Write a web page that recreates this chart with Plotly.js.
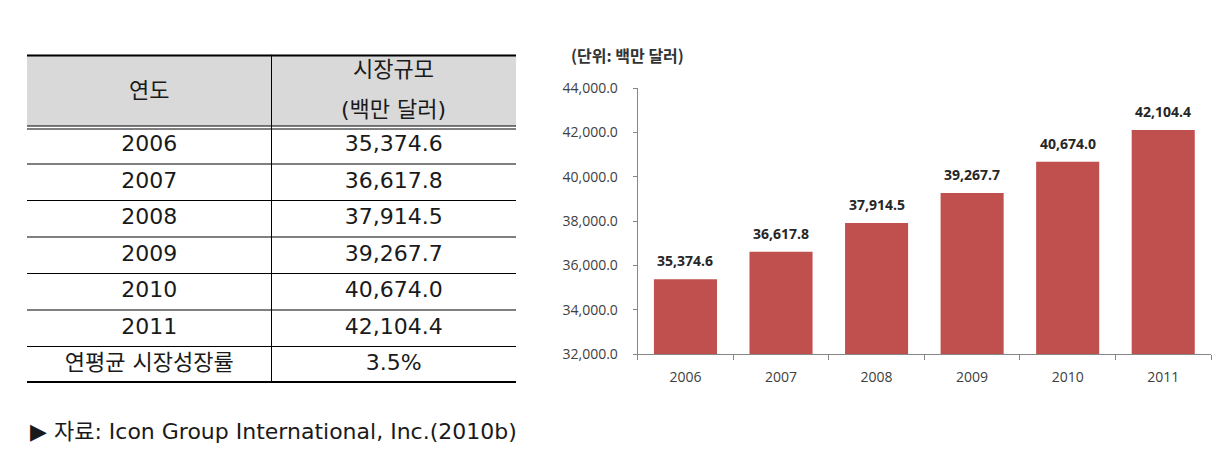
<!DOCTYPE html>
<html>
<head>
<meta charset="utf-8">
<script src="https://cdn.plot.ly/plotly-3.0.1.min.js"></script>
<style>html,body{margin:0;padding:0;background:#fff;}#chart{width:1226px;height:463px;}</style>
</head>
<body>
<div id="chart"></div>
<script>
// ---- data ----
const years = ['2006', '2007', '2008', '2009', '2010', '2011'];
const marketSize = [35374.6, 36617.8, 37914.5, 39267.7, 40674.0, 42104.4];
const yTickVals = [32000, 34000, 36000, 38000, 40000, 42000, 44000];
const headerYear = '연도';
const headerSizeLine1 = '시장규모';
const headerSizeLine2 = '(백만 달러)';
const avgGrowthLabel = '연평균 시장성장률';
const avgGrowthValue = '3.5%';
const chartUnit = '(단위: 백만 달러)';
const sourceNote = '▶ 자료: Icon Group International, Inc.(2010b)';

const fmt = v => v.toLocaleString('en-US', {minimumFractionDigits: 1, maximumFractionDigits: 1});
const valueLabels = marketSize.map(fmt);
const yTickText = yTickVals.map(fmt);

const tableFont = {family: 'DejaVu Sans, Noto Sans CJK KR, sans-serif', size: 22, color: '#1a1a1a'};
const chartFont = {family: 'Open Sans, Noto Sans, sans-serif', size: 14, color: '#404040'};
const W = 1226, H = 463;

// table rows: header occupies 0..2, data rows 2..8, avg row 8..9
const rowY = years.map((_, i) => 2.5 + i);

const traces = [
  {
    type: 'bar', x: years, y: marketSize, xaxis: 'x', yaxis: 'y',
    marker: {color: '#c0504d'}, hoverinfo: 'skip', showlegend: false
  },
  {
    type: 'scatter', mode: 'text', xaxis: 'x2', yaxis: 'y2',
    x: years.map(() => 0.5).concat([0.5]), y: rowY.concat([8.5]),
    text: years.concat([avgGrowthLabel]), textfont: tableFont,
    textposition: 'middle center', hoverinfo: 'skip', showlegend: false
  },
  {
    type: 'scatter', mode: 'text', xaxis: 'x2', yaxis: 'y2',
    x: years.map(() => 1.5).concat([1.5]), y: rowY.concat([8.5]),
    text: valueLabels.concat([avgGrowthValue]), textfont: tableFont,
    textposition: 'middle center', hoverinfo: 'skip', showlegend: false
  }
];

const shapes = [];
shapes.push({type: 'rect', xref: 'x2', yref: 'y2', x0: 0, x1: 2, y0: 0, y1: 2, fillcolor: '#d9d9d9', line: {width: 0}, layer: 'below'});
shapes.push({type: 'line', xref: 'x2', yref: 'y2', x0: 0, x1: 2, y0: 0, y1: 0, line: {color: '#000', width: 4}});
shapes.push({type: 'line', xref: 'x2', yref: 'y2', x0: 0, x1: 2, y0: 9, y1: 9, line: {color: '#000', width: 4}});
shapes.push({type: 'line', xref: 'x2', yref: 'y2', x0: 0, x1: 2, y0: 2, y1: 2, line: {color: '#000', width: 4}});
shapes.push({type: 'line', xref: 'x2', yref: 'y2', x0: 0, x1: 2, y0: 2, y1: 2, line: {color: '#fff', width: 2}});
for (let i = 1; i <= years.length; i++) {
  shapes.push({type: 'line', xref: 'x2', yref: 'y2', x0: 0, x1: 2, y0: 2 + i, y1: 2 + i, line: {color: '#000', width: 1}});
}
shapes.push({type: 'line', xref: 'x2', yref: 'y2', x0: 1, x1: 1, y0: 0, y1: 9, line: {color: '#000', width: 1}});

const annotations = [
  {xref: 'x2', yref: 'y2', x: 0.5, y: 1, text: headerYear, showarrow: false, font: tableFont},
  {xref: 'x2', yref: 'y2', x: 1.5, y: 0.42, text: headerSizeLine1, showarrow: false, font: tableFont},
  {xref: 'x2', yref: 'y2', x: 1.5, y: 1.5, text: headerSizeLine2, showarrow: false, font: tableFont},
  {xref: 'paper', yref: 'paper', x: 569 / W, y: 1 - 55 / H, xanchor: 'left', yanchor: 'middle',
   text: '<b>' + chartUnit + '</b>', showarrow: false,
   font: {family: 'Noto Sans CJK KR, sans-serif', size: 16, color: '#333'}},
  {xref: 'paper', yref: 'paper', x: 28 / W, y: 1 - 431 / H, xanchor: 'left', yanchor: 'middle',
   text: sourceNote, showarrow: false, font: {family: 'DejaVu Sans, Noto Sans CJK KR, sans-serif', size: 22, color: '#1a1a1a'}}
];
years.forEach((yr, i) => {
  annotations.push({xref: 'x', yref: 'y', x: i, y: marketSize[i], yanchor: 'bottom', yshift: 7,
    text: '<b>' + valueLabels[i] + '</b>', showarrow: false,
    font: {family: 'Open Sans, Noto Sans, sans-serif', size: 14, color: '#262626'}});
});

const layout = {
  width: W, height: H,
  margin: {l: 0, r: 0, t: 0, b: 0},
  paper_bgcolor: '#fff', plot_bgcolor: 'rgba(0,0,0,0)',
  showlegend: false,
  bargap: 0.34,
  xaxis: {
    domain: [637.7 / W, 1211 / W], anchor: 'y', type: 'category',
    range: [-0.5, years.length - 0.5], autorange: false,
    showgrid: false, zeroline: false, showline: true, linecolor: '#868686', linewidth: 1,
    ticks: 'outside', tickson: 'boundaries', ticklen: 5, tickcolor: '#868686',
    tickfont: chartFont, ticklabelstandoff: 10, fixedrange: true
  },
  yaxis: {
    domain: [1 - 354 / H, 1 - 88 / H], anchor: 'x', range: [32000, 44000], autorange: false,
    tickvals: yTickVals, ticktext: yTickText,
    showgrid: false, zeroline: false, showline: true, linecolor: '#868686', linewidth: 1,
    ticks: 'outside', ticklen: 4, tickcolor: '#868686',
    tickfont: chartFont, ticklabelstandoff: 12, fixedrange: true
  },
  xaxis2: {domain: [27 / W, 516 / W], anchor: 'y2', range: [0, 2], visible: false, fixedrange: true},
  yaxis2: {domain: [1 - 383 / H, 1 - 54.5 / H], anchor: 'x2', range: [9, 0], visible: false, fixedrange: true},
  shapes: shapes,
  annotations: annotations
};

Plotly.newPlot('chart', traces, layout, {displayModeBar: false, staticPlot: true});
</script>
</body>
</html>
